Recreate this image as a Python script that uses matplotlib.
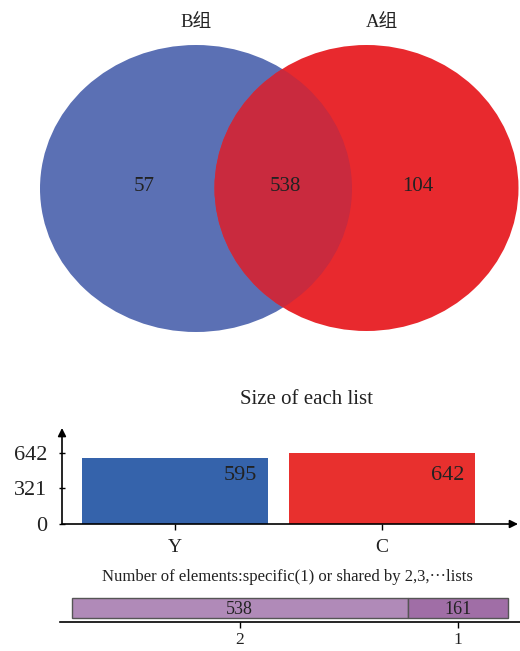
import matplotlib
matplotlib.use("Agg")
import matplotlib.pyplot as plt
from matplotlib.patches import Ellipse
import matplotlib.transforms as mtransforms

# Venn counts
set_names = ["B组", "A组"]
venn_only_b = 57
venn_shared = 538
venn_only_a = 104

# Size of each list
list_labels = ["Y", "C"]
list_sizes = [595, 642]
list_ticks = [0, 321, 642]

# Elements specific to one list or shared by several
share_labels = ["2", "1"]
share_counts = [538, 161]

FONT = ["Liberation Serif", "Noto Sans CJK SC"]
plt.rcParams["font.family"] = FONT

W, H = 520, 651
fig = plt.figure(figsize=(W / 100, H / 100), dpi=100)


def px_axes(left, top, right, bottom):
    return fig.add_axes([left / W, 1 - bottom / H, (right - left) / W, (bottom - top) / H])


# ---- Venn diagram ----
axv = px_axes(0, 0, W, H)
axv.set_xlim(0, W)
axv.set_ylim(H, 0)
axv.axis("off")

blue_c, red_c, mix_c = "#5b70b4", "#e8292e", "#c92a3e"
e_blue = Ellipse((196, 188.5), 312, 287, facecolor=blue_c, edgecolor="none")
e_red = Ellipse((366.5, 188), 304, 286, facecolor=red_c, edgecolor="none")
axv.add_patch(e_blue)
axv.add_patch(e_red)
e_mix = Ellipse((366.5, 188), 304, 286, facecolor=mix_c, edgecolor="none")
axv.add_patch(e_mix)
e_mix.set_clip_path(e_blue)

axv.text(196, 22, set_names[0], ha="center", va="center", fontsize=13.5, color="#222222")
axv.text(382, 22, set_names[1], ha="center", va="center", fontsize=13.5, color="#222222")
axv.text(144, 186.5, str(venn_only_b), ha="center", va="center", fontsize=15, color="#222222")
axv.text(285, 186.5, str(venn_shared), ha="center", va="center", fontsize=15, color="#222222")
axv.text(418, 186.5, str(venn_only_a), ha="center", va="center", fontsize=15, color="#222222")

# ---- Size of each list ----
fig.text(306 / W, 1 - 400 / H, "Size of each list", ha="center", va="center",
         fontsize=15, color="#222222")
axb = px_axes(62, 428, 518, 524)
xpos = [0, 1]
axb.bar(xpos, list_sizes, width=0.9, color=["#3563ab", "#e8302e"], edgecolor="none")
axb.set_xlim(-0.546, 1.657)
axb.set_ylim(0, 868)
for s in ["top", "right", "left", "bottom"]:
    axb.spines[s].set_visible(False)
axb.annotate("", xy=(0, 1.0), xytext=(0, 0), xycoords="axes fraction",
             arrowprops=dict(arrowstyle="-|>", color="black", lw=1.2, mutation_scale=12,
                             shrinkA=0, shrinkB=0))
axb.annotate("", xy=(1.0, 0), xytext=(0, 0), xycoords="axes fraction",
             arrowprops=dict(arrowstyle="-|>", color="black", lw=1.2, mutation_scale=12,
                             shrinkA=0, shrinkB=0))
axb.set_yticks(list_ticks)
axb.set_yticklabels([str(t) for t in list_ticks], fontsize=16, color="#222222")
axb.tick_params(axis="y", direction="inout", length=5, width=1, pad=8)
axb.set_xticks(xpos)
axb.set_xticklabels(list_labels, fontsize=14, color="#222222")
axb.tick_params(axis="x", direction="out", length=4, width=1, pad=7)
blend = mtransforms.blended_transform_factory(axb.transData, axb.transAxes)
for x, v in zip(xpos, list_sizes):
    axb.text(x + 0.45 - 0.135, 0.51, str(v), transform=blend, ha="center", va="center",
             fontsize=16, color="#222222")

# ---- Shared elements ----
fig.text(287 / W, 1 - 577 / H, "Number of elements:specific(1) or shared by 2,3,\u00b7\u00b7\u00b7lists",
         ha="center", va="center", fontsize=12, color="#222222")
total = sum(share_counts)
axs = px_axes(60, 596, 520, 622)
axs.set_xlim(-total * 12 / 436, total + total * 12 / 436)
axs.set_ylim(0, 1)
left = 0
centers = []
for cnt, col in zip(share_counts, ["#b08ab8", "#a06ea6"]):
    axs.barh(0.54, cnt, left=left, height=0.77, color=col, edgecolor="#555555", linewidth=1)
    axs.text(left + cnt / 2, 0.50, str(cnt), ha="center", va="center", fontsize=13,
             color="#222222")
    centers.append(left + cnt / 2)
    left += cnt
for s in ["top", "right", "left"]:
    axs.spines[s].set_visible(False)
axs.spines["bottom"].set_linewidth(1.2)
axs.set_yticks([])
axs.set_xticks(centers)
axs.set_xticklabels(share_labels, fontsize=12.5, color="#222222")
axs.tick_params(axis="x", direction="out", length=4, width=1, pad=3.5)

fig.savefig("out.png", dpi=100)
